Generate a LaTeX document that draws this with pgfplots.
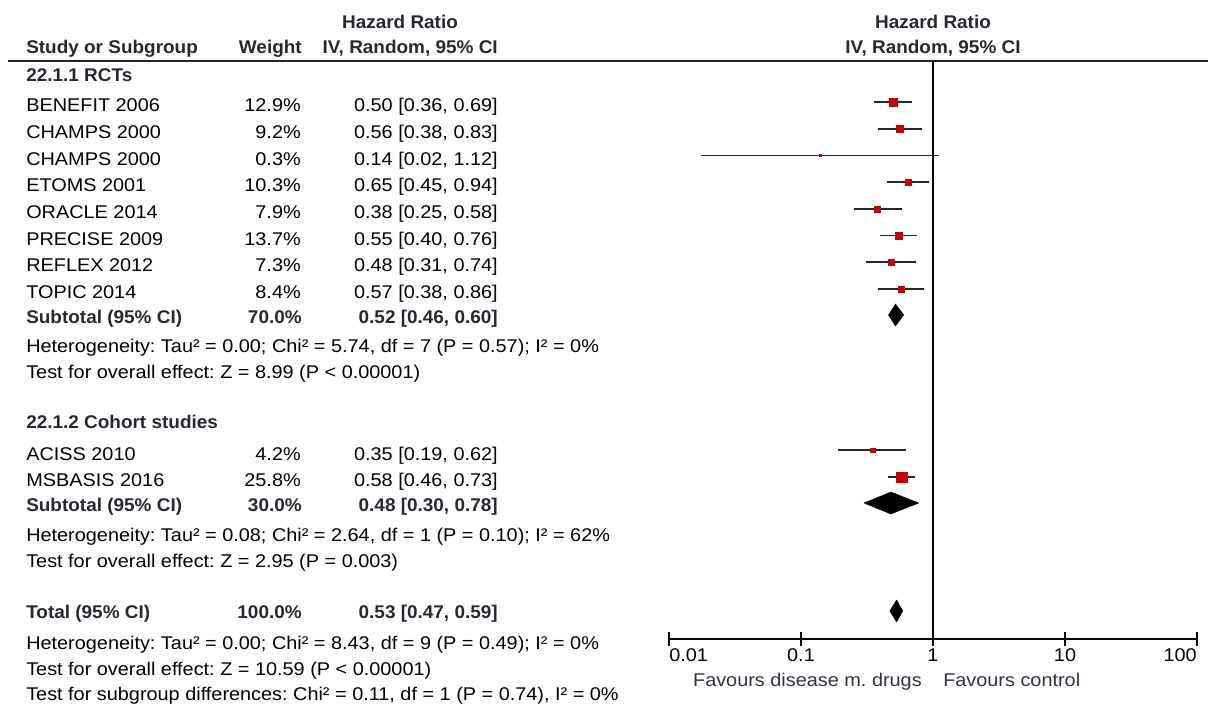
\documentclass[border=0pt]{standalone}
\usepackage{fontspec}
\setmainfont{Liberation Sans}[FakeStretch=1.08, BoldFeatures={FakeStretch=1.03}]
\usepackage{pgfplots}
\usepackage{pgfplotstable}
\pgfplotsset{compat=1.18}
\definecolor{mkred}{RGB}{200,0,0}
\definecolor{hdr}{RGB}{40,40,50}
\definecolor{fav}{RGB}{50,50,70}

% study estimates: est, row position (px from top), square side (px)
\pgfplotstableread{
est  y     s
0.50 102.0 7.4
0.56 128.7 6.3
0.14 155.4 2.2
0.65 182.0 6.6
0.38 208.8 5.8
0.55 235.5 7.6
0.48 262.2 5.5
0.57 289.0 5.9
0.35 450.0 4.4
0.58 477.0 10.6
}\studies

\begin{document}
\frenchspacing
\fontsize{13.8pt}{16pt}\selectfont
\begin{tikzpicture}[x=0.75pt,y=-0.75pt,
  L/.style={anchor=base west,inner sep=0pt},
  R/.style={anchor=base east,inner sep=0pt},
  C/.style={anchor=base,inner sep=0pt},
  B/.style={font=\bfseries,text=hdr}]
\begin{axis}[
  at={(501.75pt,-479.25pt)}, anchor=south west,
  width=396pt, height=433.5pt, scale only axis,
  xmode=log, xmin=0.01, xmax=100,
  ymin=61, ymax=639, y dir=reverse,
  axis x line*=bottom, axis y line=none,
  xtick={0.01,0.1,1,10,100}, xticklabels={},
  xminorticks=false,
  tick align=center, major tick length=10pt,
  every tick/.style={black, line width=1.4pt},
  axis line style={black, line width=1.4pt},
  clip=false,
]
% line of no effect
\draw[black, line width=1.4pt] (1,61) -- (1,639);
% confidence intervals
\addplot[black!85, line width=1.25pt] coordinates {(0.36,102.0) (0.69,102.0)};
\addplot[black!85, line width=1.25pt] coordinates {(0.38,128.7) (0.83,128.7)};
\addplot[black!85, line width=1.25pt] coordinates {(0.0175,155.4) (1.12,155.4)};
\addplot[black!85, line width=1.25pt] coordinates {(0.45,182.0) (0.94,182.0)};
\addplot[black!85, line width=1.25pt] coordinates {(0.25,208.8) (0.58,208.8)};
\addplot[black!85, line width=1.25pt] coordinates {(0.40,235.5) (0.76,235.5)};
\addplot[black!85, line width=1.25pt] coordinates {(0.31,262.2) (0.74,262.2)};
\addplot[black!85, line width=1.25pt] coordinates {(0.38,289.0) (0.86,289.0)};
\addplot[black!85, line width=1.25pt] coordinates {(0.19,450.0) (0.62,450.0)};
\addplot[black!85, line width=1.25pt] coordinates {(0.46,477.0) (0.73,477.0)};
% study squares
\addplot[scatter, only marks, mark=square*,
  scatter/use mapped color={draw=mkred, fill=mkred},
  mark options={line width=0.2pt},
  visualization depends on={\thisrow{s} \as \side},
  scatter/@pre marker code/.append style={/tikz/mark size=0.375*\side}]
  table[x=est, y=y] {\studies};
% pooled diamonds
\addplot[fill=black, draw=black, line width=0.3pt] coordinates {(0.46,315) (0.52,304) (0.60,315) (0.52,326) (0.46,315)};
\addplot[fill=black, draw=black, line width=0.3pt] coordinates {(0.30,503) (0.48,492) (0.78,503) (0.48,514) (0.30,503)};
\addplot[fill=black, draw=black, line width=0.3pt] coordinates {(0.47,611) (0.53,600) (0.59,611) (0.53,622) (0.47,611)};
% tick labels
\node[anchor=base west,inner sep=0pt] at (0.01,661.5) {0.01};
\node[anchor=base,inner sep=0pt] at (0.1,661.5) {0.1};
\node[anchor=base,inner sep=0pt] at (1,661.5) {1};
\node[anchor=base,inner sep=0pt] at (10,661.5) {10};
\node[anchor=base east,inner sep=0pt] at (100,661.5) {100};
\end{axis}

% header
\draw[black!85, line width=1.5pt] (8,61) -- (1208,61);
\node[C,B] at (400,28.3) {Hazard Ratio};
\node[C,B] at (933,28.3) {Hazard Ratio};
\node[L,B] at (26,54) {Study or Subgroup};
\node[R,B] at (302,54) {Weight};
\node[R,B] at (498,54) {IV, Random, 95\% CI};
\node[C,B] at (933,54) {IV, Random, 95\% CI};

% subgroup 1
\node[L,B] at (26,81.7) {22.1.1 RCTs};
\node[L] at (26,111.7) {BENEFIT 2006};  \node[R] at (301,111.7) {12.9\%}; \node[R] at (498,111.7) {0.50 [0.36, 0.69]};
\node[L] at (26,138.4) {CHAMPS 2000};   \node[R] at (301,138.4) {9.2\%};  \node[R] at (498,138.4) {0.56 [0.38, 0.83]};
\node[L] at (26,165.1) {CHAMPS 2000};   \node[R] at (301,165.1) {0.3\%};  \node[R] at (498,165.1) {0.14 [0.02, 1.12]};
\node[L] at (26,191.8) {ETOMS 2001};    \node[R] at (301,191.8) {10.3\%}; \node[R] at (498,191.8) {0.65 [0.45, 0.94]};
\node[L] at (26,218.5) {ORACLE 2014};   \node[R] at (301,218.5) {7.9\%};  \node[R] at (498,218.5) {0.38 [0.25, 0.58]};
\node[L] at (26,245.2) {PRECISE 2009};  \node[R] at (301,245.2) {13.7\%}; \node[R] at (498,245.2) {0.55 [0.40, 0.76]};
\node[L] at (26,271.9) {REFLEX 2012};   \node[R] at (301,271.9) {7.3\%};  \node[R] at (498,271.9) {0.48 [0.31, 0.74]};
\node[L] at (26,298.6) {TOPIC 2014};    \node[R] at (301,298.6) {8.4\%};  \node[R] at (498,298.6) {0.57 [0.38, 0.86]};
\node[L,B] at (26,323.8) {Subtotal (95\% CI)}; \node[R,B] at (302,323.8) {70.0\%}; \node[R,B] at (498,323.8) {0.52 [0.46, 0.60]};
\node[L] at (26,353) {Heterogeneity: Tau² = 0.00; Chi² = 5.74, df = 7 (P = 0.57); I² = 0\%};
\node[L] at (26,379) {Test for overall effect: Z = 8.99 (P < 0.00001)};

% subgroup 2
\node[L,B] at (26,429) {22.1.2 Cohort studies};
\node[L] at (26,460) {ACISS 2010};     \node[R] at (301,460) {4.2\%};   \node[R] at (498,460) {0.35 [0.19, 0.62]};
\node[L] at (26,486.7) {MSBASIS 2016}; \node[R] at (301,486.7) {25.8\%}; \node[R] at (498,486.7) {0.58 [0.46, 0.73]};
\node[L,B] at (26,511.7) {Subtotal (95\% CI)}; \node[R,B] at (302,511.7) {30.0\%}; \node[R,B] at (498,511.7) {0.48 [0.30, 0.78]};
\node[L] at (26,541.7) {Heterogeneity: Tau² = 0.08; Chi² = 2.64, df = 1 (P = 0.10); I² = 62\%};
\node[L] at (26,567.3) {Test for overall effect: Z = 2.95 (P = 0.003)};

% total
\node[L,B] at (26,618.3) {Total (95\% CI)}; \node[R,B] at (302,618.3) {100.0\%}; \node[R,B] at (498,618.3) {0.53 [0.47, 0.59]};
\node[L] at (26,649) {Heterogeneity: Tau² = 0.00; Chi² = 8.43, df = 9 (P = 0.49); I² = 0\%};
\node[L] at (26,675) {Test for overall effect: Z = 10.59 (P < 0.00001)};
\node[L] at (26,700.7) {Test for subgroup differences: Chi² = 0.11, df = 1 (P = 0.74), I² = 0\%};

% favours labels
\node[R,text=fav] at (922,686) {Favours disease m. drugs};
\node[L,text=fav] at (943,686) {Favours control};

\pgfresetboundingbox
\path[use as bounding box] (0,0) rectangle (1208,709);
\end{tikzpicture}
\end{document}
